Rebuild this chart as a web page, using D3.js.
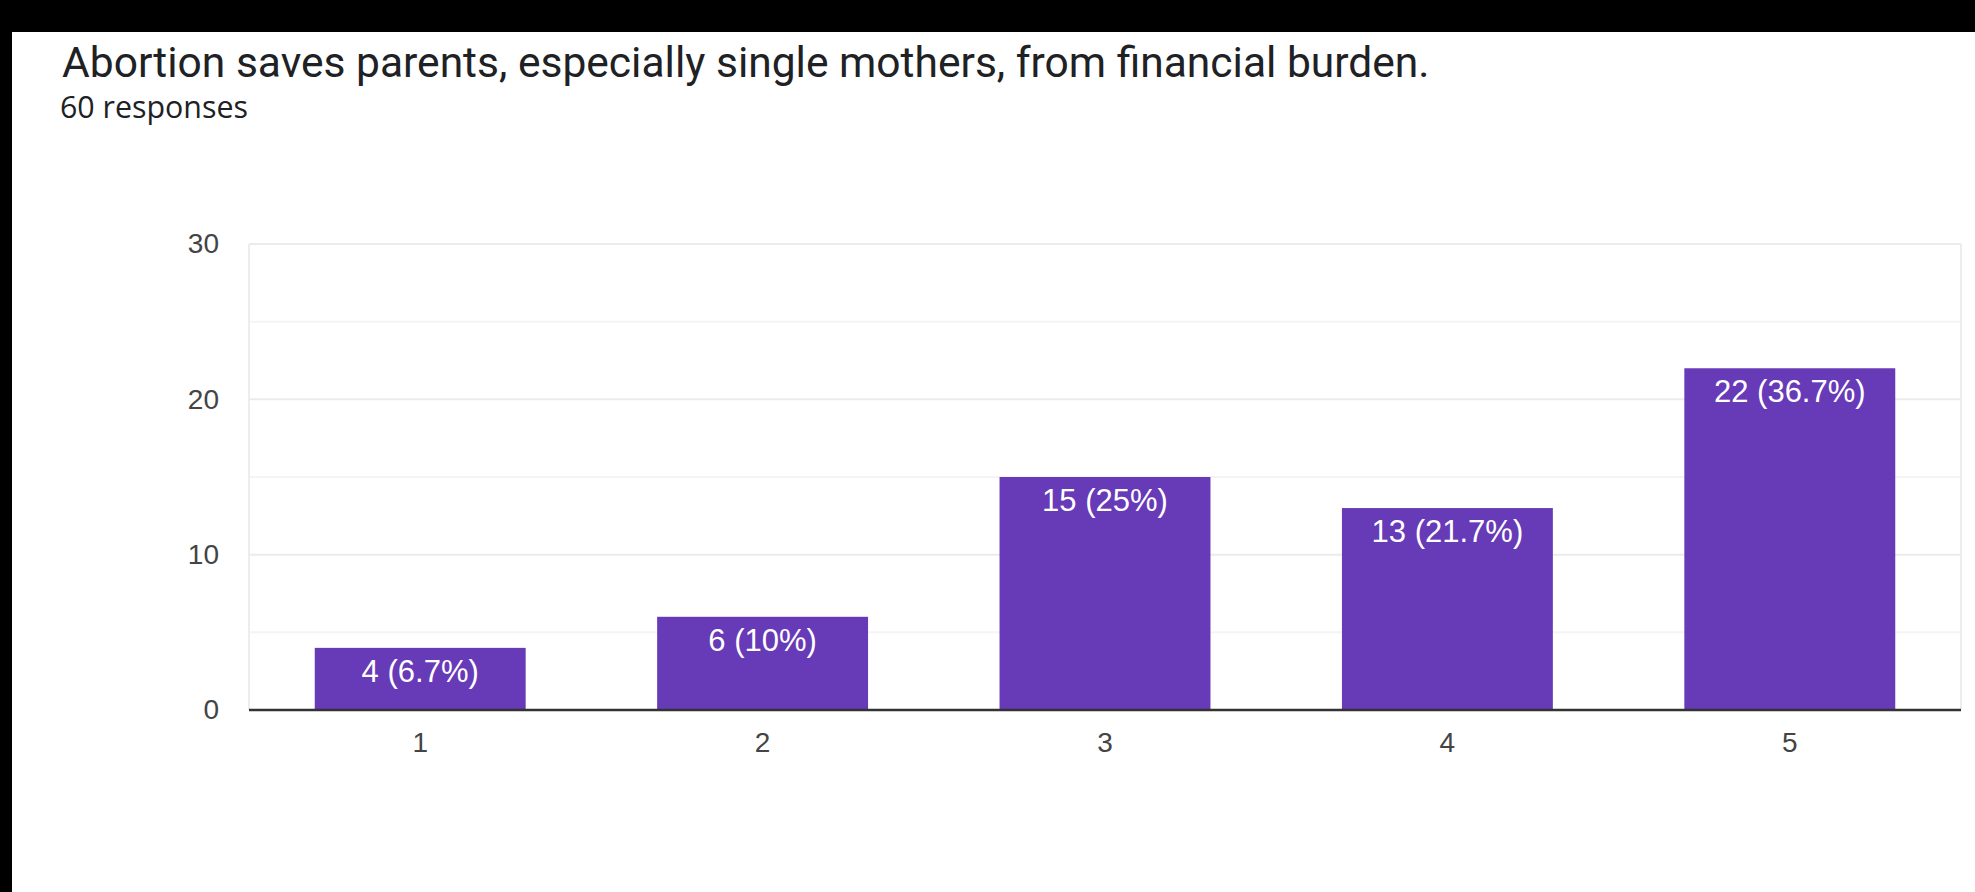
<!DOCTYPE html>
<html>
<head>
<meta charset="utf-8">
<script src="https://cdn.jsdelivr.net/npm/d3@7/dist/d3.min.js"></script>
<style>
  html, body { margin: 0; padding: 0; background: #000; }
  svg { display: block; }
</style>
</head>
<body>
<svg id="chart" width="1975" height="892"></svg>
<script>
// Survey question and answer counts (linear scale 1–5)
const title = "Abortion saves parents, especially single mothers, from financial burden.";
const subtitle = "60 responses";
const categories = ["1", "2", "3", "4", "5"];
const counts = [4, 6, 15, 13, 22];
const yTicks = [0, 10, 20, 30];
const yMinorTicks = [5, 15, 25];

const total = d3.sum(counts);
const svg = d3.select("#chart");
const W = 1975, H = 892;

// page frame: dark edge on top and left, white card
svg.append("rect").attr("width", W).attr("height", H).attr("fill", "#000");
svg.append("rect").attr("x", 12).attr("y", 32).attr("width", W - 12).attr("height", H - 32).attr("fill", "#fff");

// header text, sized to fill its line width
function fitText(sel, base, width) {
  const w = sel.node().getComputedTextLength();
  sel.attr("font-size", base * width / w);
}

const titleText = svg.append("text")
  .attr("x", 62).attr("y", 77)
  .attr("font-family", "Roboto, 'Open Sans', sans-serif")
  .attr("font-size", 40)
  .attr("fill", "#202124")
  .text(title);
fitText(titleText, 40, 1368);

const subText = svg.append("text")
  .attr("x", 60).attr("y", 118)
  .attr("font-family", "'Open Sans', Roboto, sans-serif")
  .attr("font-size", 26)
  .attr("fill", "#202124")
  .text(subtitle);
fitText(subText, 26, 188);

// plot area
const plot = { left: 249, right: 1961, top: 244, bottom: 710 };

const y = d3.scaleLinear().domain([0, 30]).range([plot.bottom, plot.top]);
const x = d3.scaleBand().domain(categories)
  .range([plot.left, plot.right])
  .paddingInner(0.384).paddingOuter(0.192);

const g = svg.append("g");

// minor gridlines
g.selectAll("line.minor").data(yMinorTicks).join("line")
  .attr("class", "minor")
  .attr("x1", plot.left).attr("x2", plot.right)
  .attr("y1", d => y(d)).attr("y2", d => y(d))
  .attr("stroke", "#f4f4f4").attr("stroke-width", 2);

// major gridlines
g.selectAll("line.major").data(yTicks.filter(d => d > 0)).join("line")
  .attr("class", "major")
  .attr("x1", plot.left).attr("x2", plot.right)
  .attr("y1", d => y(d)).attr("y2", d => y(d))
  .attr("stroke", "#ebebeb").attr("stroke-width", 2);

// side borders of plot area
g.selectAll("line.side").data([plot.left, plot.right]).join("line")
  .attr("class", "side")
  .attr("x1", d => d).attr("x2", d => d)
  .attr("y1", plot.top).attr("y2", plot.bottom)
  .attr("stroke", "#ededed").attr("stroke-width", 2);

// bars
g.selectAll("rect.bar").data(counts).join("rect")
  .attr("class", "bar")
  .attr("x", (d, i) => x(categories[i]))
  .attr("width", x.bandwidth())
  .attr("y", d => y(d))
  .attr("height", d => y(0) - y(d))
  .attr("fill", "#673ab7");

// value labels inside bars
g.selectAll("text.val").data(counts).join("text")
  .attr("class", "val")
  .attr("x", (d, i) => x(categories[i]) + x.bandwidth() / 2)
  .attr("y", d => y(d) + 34)
  .attr("text-anchor", "middle")
  .attr("font-family", "Arial, 'Liberation Sans', sans-serif")
  .attr("font-size", 31)
  .attr("fill", "#fff")
  .text(d => `${d} (${+(d / total * 100).toFixed(1)}%)`);

// baseline
g.append("line")
  .attr("x1", plot.left).attr("x2", plot.right)
  .attr("y1", y(0)).attr("y2", y(0))
  .attr("stroke", "#333").attr("stroke-width", 2.5);

// y axis labels
const yAxis = d3.axisLeft(y).tickValues(yTicks).tickSize(0).tickPadding(30);
const ya = svg.append("g").attr("transform", `translate(${plot.left},0)`).call(yAxis);
ya.select(".domain").remove();
ya.selectAll("text")
  .attr("font-family", "Arial, 'Liberation Sans', sans-serif")
  .attr("font-size", 28)
  .attr("fill", "#444");

// x axis labels
const xAxis = d3.axisBottom(x).tickSize(0).tickPadding(22);
const xa = svg.append("g").attr("transform", `translate(0,${plot.bottom})`).call(xAxis);
xa.select(".domain").remove();
xa.selectAll("text")
  .attr("font-family", "Arial, 'Liberation Sans', sans-serif")
  .attr("font-size", 28)
  .attr("fill", "#444");
</script>
</body>
</html>
